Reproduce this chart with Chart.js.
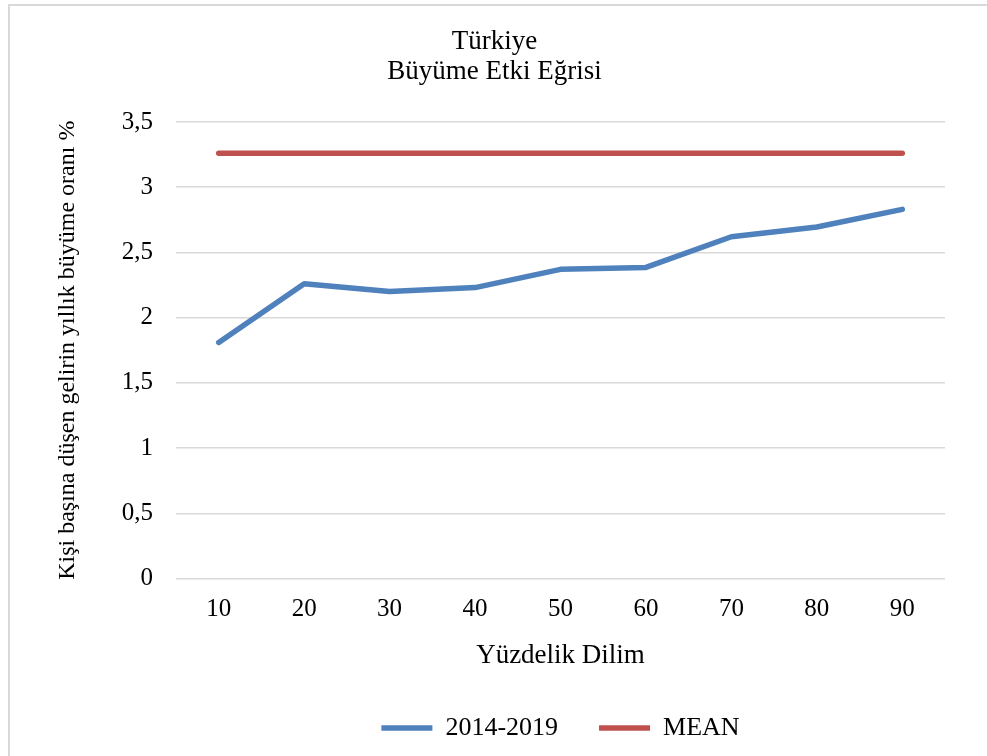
<!DOCTYPE html>
<html lang="tr">
<head>
  <meta charset="UTF-8">
  <title>Türkiye Büyüme Etki Eğrisi</title>
  <script src="https://cdn.jsdelivr.net/npm/chart.js@4.4.1/dist/chart.umd.min.js"></script>
  <style>
  body {
    margin: 0;
    padding: 0;
    background: #fff;
    overflow: hidden;
  }
  .frame {
    position: absolute;
    left: 8px;
    top: 4px;
    width: 1200px;
    height: 1000px;
    border: 2px solid #d9d9d9;
  }
  .chart-container {
    position: absolute;
    left: 0;
    top: 0;
    width: 987px;
    height: 756px;
  }
  </style>
</head>
<body>
<div class="frame"></div>
<div class="chart-container">
  <canvas id="growthChart"></canvas>
</div>

<script>
  // values
  var percentiles = ['10', '20', '30', '40', '50', '60', '70', '80', '90'];
  var growth20142019 = [1.81, 2.26, 2.20, 2.23, 2.37, 2.385, 2.62, 2.695, 2.83];
  var meanValues = [3.26, 3.26, 3.26, 3.26, 3.26, 3.26, 3.26, 3.26, 3.26];
  var seriesNames = ['2014-2019', 'MEAN'];
  var titleLines = ['Türkiye', 'Büyüme Etki Eğrisi'];
  var yAxisTitle = 'Kişi başına düşen gelirin yıllık büyüme oranı %';
  var xAxisTitle = 'Yüzdelik Dilim';

  var serif = '"Liberation Serif", "Times New Roman", serif';

  var datasets = [{
    label: seriesNames[0],
    data: growth20142019,
    borderColor: '#4f81bd',
    backgroundColor: '#4f81bd',
    borderWidth: 5.5,
    borderCapStyle: 'round',
    borderJoinStyle: 'round',
    pointRadius: 0,
    tension: 0,
    fill: false
  },
  {
    label: seriesNames[1],
    data: meanValues,
    borderColor: '#c0504d',
    backgroundColor: '#c0504d',
    borderWidth: 5.5,
    borderCapStyle: 'round',
    borderJoinStyle: 'round',
    pointRadius: 0,
    tension: 0,
    fill: false
  }];

  var options = {
    responsive: true,
    maintainAspectRatio: false,
    animation: false,
    layout: {
      padding: { left: 44, right: 42, top: 0, bottom: 5 }
    },
    scales: {
      x: {
        type: 'category',
        offset: true,
        grid: { display: false },
        border: { display: false },
        ticks: {
          color: '#000',
          padding: 8,
          font: { family: serif, size: 25 }
        },
        title: {
          display: true,
          text: xAxisTitle,
          color: '#000',
          padding: 0,
          font: { family: serif, size: 27, lineHeight: 1.37 }
        },
        afterFit: function(scale) { scale.height = 95.5; }
      },
      y: {
        min: 0,
        max: 3.5,
        border: { display: false },
        grid: {
          color: '#d9d9d9',
          lineWidth: 1.5,
          drawTicks: false
        },
        ticks: {
          stepSize: 0.5,
          color: '#000',
          padding: 23,
          font: { family: serif, size: 25 },
          callback: function(value) { return String(value).replace('.', ','); }
        },
        title: {
          display: true,
          text: yAxisTitle,
          color: '#000',
          padding: { top: 9, bottom: 4 },
          font: { family: serif, size: 24 }
        },
        afterFit: function(scale) { scale.width = 132; }
      }
    },
    plugins: {
      title: {
        display: true,
        text: titleLines,
        color: '#000',
        padding: { top: 27, bottom: 35 },
        font: { family: serif, size: 27, weight: 'normal', lineHeight: 1.11 }
      },
      legend: {
        position: 'bottom',
        fullSize: false,
        labels: {
          color: '#000',
          usePointStyle: true,
          pointStyle: 'line',
          pointStyleWidth: 51,
          padding: 41,
          font: { family: serif, size: 26 }
        }
      },
      tooltip: { enabled: false }
    }
  };

  var ctx = document.getElementById('growthChart');
  var growthChart = new Chart(ctx, {
    type: 'line',
    data: {
      labels: percentiles,
      datasets: datasets
    },
    options: options
  });
</script>
</body>
</html>
